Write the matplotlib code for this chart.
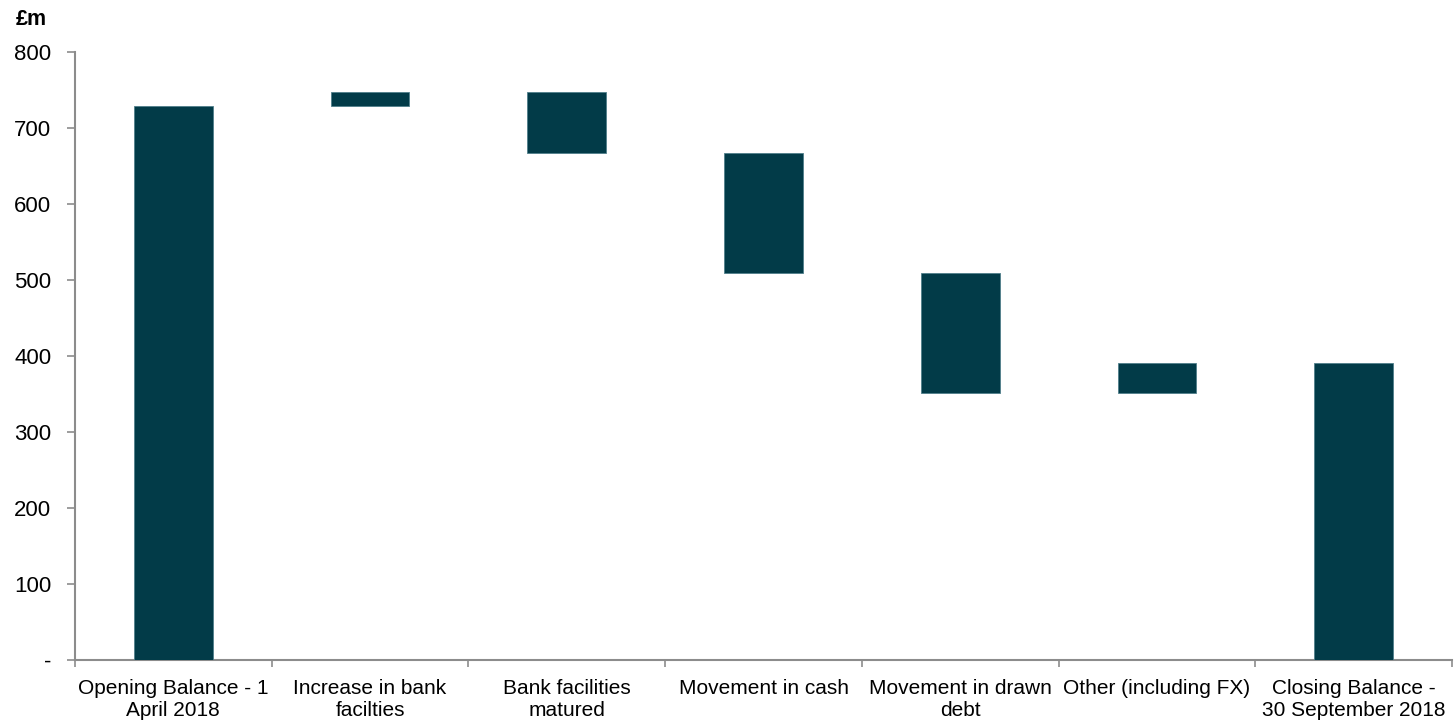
import matplotlib
matplotlib.use("Agg")
import matplotlib.pyplot as plt
import matplotlib.ticker as ticker
import numpy as np

plt.rcParams["font.family"] = ["Liberation Sans", "DejaVu Sans"]

categories = [
    "Opening Balance - 1\nApril 2018",
    "Increase in bank\nfacilties",
    "Bank facilities\nmatured",
    "Movement in cash",
    "Movement in drawn\ndebt",
    "Other (including FX)",
    "Closing Balance -\n30 September 2018",
]
opening = 729
changes = [19, -81, -157, -158, 39]

BAR_COLOR = "#023b48"
EDGE_COLOR = "#4f7f8b"
AXIS_COLOR = "#8c8c8c"

# waterfall: floating bars for the movements, full bars for the balances
running = opening + np.cumsum(changes)
closing = running[-1]
prev = np.concatenate([[opening], running[:-1]])
bottoms = [0] + list(np.minimum(prev, running)) + [0]
heights = [opening] + list(np.abs(changes)) + [closing]

fig = plt.figure(figsize=(14.56, 7.25), dpi=100)
ax = fig.add_axes([0.0515, 0.0897, 0.9458, 0.8383])

x = np.arange(len(categories))
ax.bar(x, heights, bottom=bottoms, width=0.4, color=BAR_COLOR,
       edgecolor=EDGE_COLOR, linewidth=0.6, zorder=3)

ax.set_xlim(-0.5, len(categories) - 0.5)
ax.set_ylim(0, 800)
ax.set_yticks(range(0, 801, 100))
ax.yaxis.set_major_formatter(
    ticker.FuncFormatter(lambda v, _: "-" if v == 0 else f"{v:.0f}"))

ax.set_xticks(x)
ax.set_xticklabels(categories, fontsize=15)
ax.set_xticks(np.arange(-0.5, len(categories)), minor=True)
ax.tick_params(axis="x", which="major", length=0, pad=14)
ax.tick_params(axis="x", which="minor", length=5, width=1.2,
               color=AXIS_COLOR, direction="out")
ax.tick_params(axis="y", length=6, width=1.2, color=AXIS_COLOR,
               labelsize=16, pad=11)

for side in ("top", "right"):
    ax.spines[side].set_visible(False)
for side in ("left", "bottom"):
    ax.spines[side].set_color(AXIS_COLOR)
    ax.spines[side].set_linewidth(1.5)

fig.text(0.011, 0.988, "£m", fontsize=15.5, fontweight="bold", va="top")

fig.savefig("out.png", dpi=100, facecolor="white")
